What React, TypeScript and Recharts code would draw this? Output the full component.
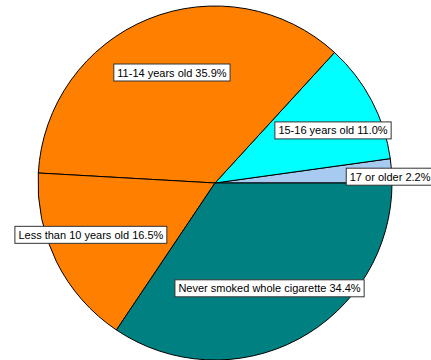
import { Pie, PieChart, Cell } from 'recharts'

// smoking-start age breakdown, counter-clockwise from 3 o'clock
const categories = [
  '17 or older',
  '15-16 years old',
  '11-14 years old',
  'Less than 10 years old',
  'Never smoked whole cigarette',
]
const shares = [2.2, 11.0, 35.9, 16.5, 34.4]
const COLORS = ['#a6caf0', '#00ffff', '#ff8000', '#ff8000', '#008080']

// where each label box sits, as a fraction of the radius plus a small angle nudge
const LABEL_RADIUS = [0.99, 0.73, 0.67, 0.76, 0.67]
const LABEL_SHIFT = [-1.9, -3.7, -0.85, -3.8, -0.7]

const data = categories.map((name, i) => ({ name, value: shares[i] }))

const RADIAN = Math.PI / 180
const FONT = '11px Arial, "Liberation Sans", sans-serif'

let ctx: CanvasRenderingContext2D | null = null
function textWidth(text: string) {
  if (!ctx) ctx = document.createElement('canvas').getContext('2d')
  if (!ctx) return text.length * 5.5
  ctx.font = FONT
  return ctx.measureText(text).width
}

function BoxLabel(props: any) {
  const { cx, cy, midAngle, outerRadius, index, name, value } = props
  const ang = (midAngle + LABEL_SHIFT[index]) * RADIAN
  const r = outerRadius * LABEL_RADIUS[index]
  const x = cx + r * Math.cos(ang)
  const y = cy - r * Math.sin(ang)
  const text = `${name} ${Number(value).toFixed(1)}%`
  const w = textWidth(text) + 7
  return (
    <g>
      <rect x={x - w / 2} y={y - 8.5} width={w} height={17} fill="#fff" stroke="#333" strokeWidth={1} />
      <text x={x} y={y + 4} textAnchor="middle" fill="#000" style={{ font: FONT }}>
        {text}
      </text>
    </g>
  )
}

export default function App() {
  return (
    <div style={{ position: 'absolute', left: 0, top: 0, background: '#fff' }}>
      <PieChart width={431} height={360} margin={{ top: 0, right: 0, bottom: 0, left: 0 }}>
        <Pie
          data={data}
          dataKey="value"
          nameKey="name"
          cx={215}
          cy={183}
          outerRadius={177}
          startAngle={0}
          endAngle={360}
          stroke="#000"
          strokeWidth={1}
          label={BoxLabel}
          labelLine={false}
          isAnimationActive={false}
        >
          {data.map((d, i) => (
            <Cell key={d.name} fill={COLORS[i]} />
          ))}
        </Pie>
      </PieChart>
    </div>
  )
}
